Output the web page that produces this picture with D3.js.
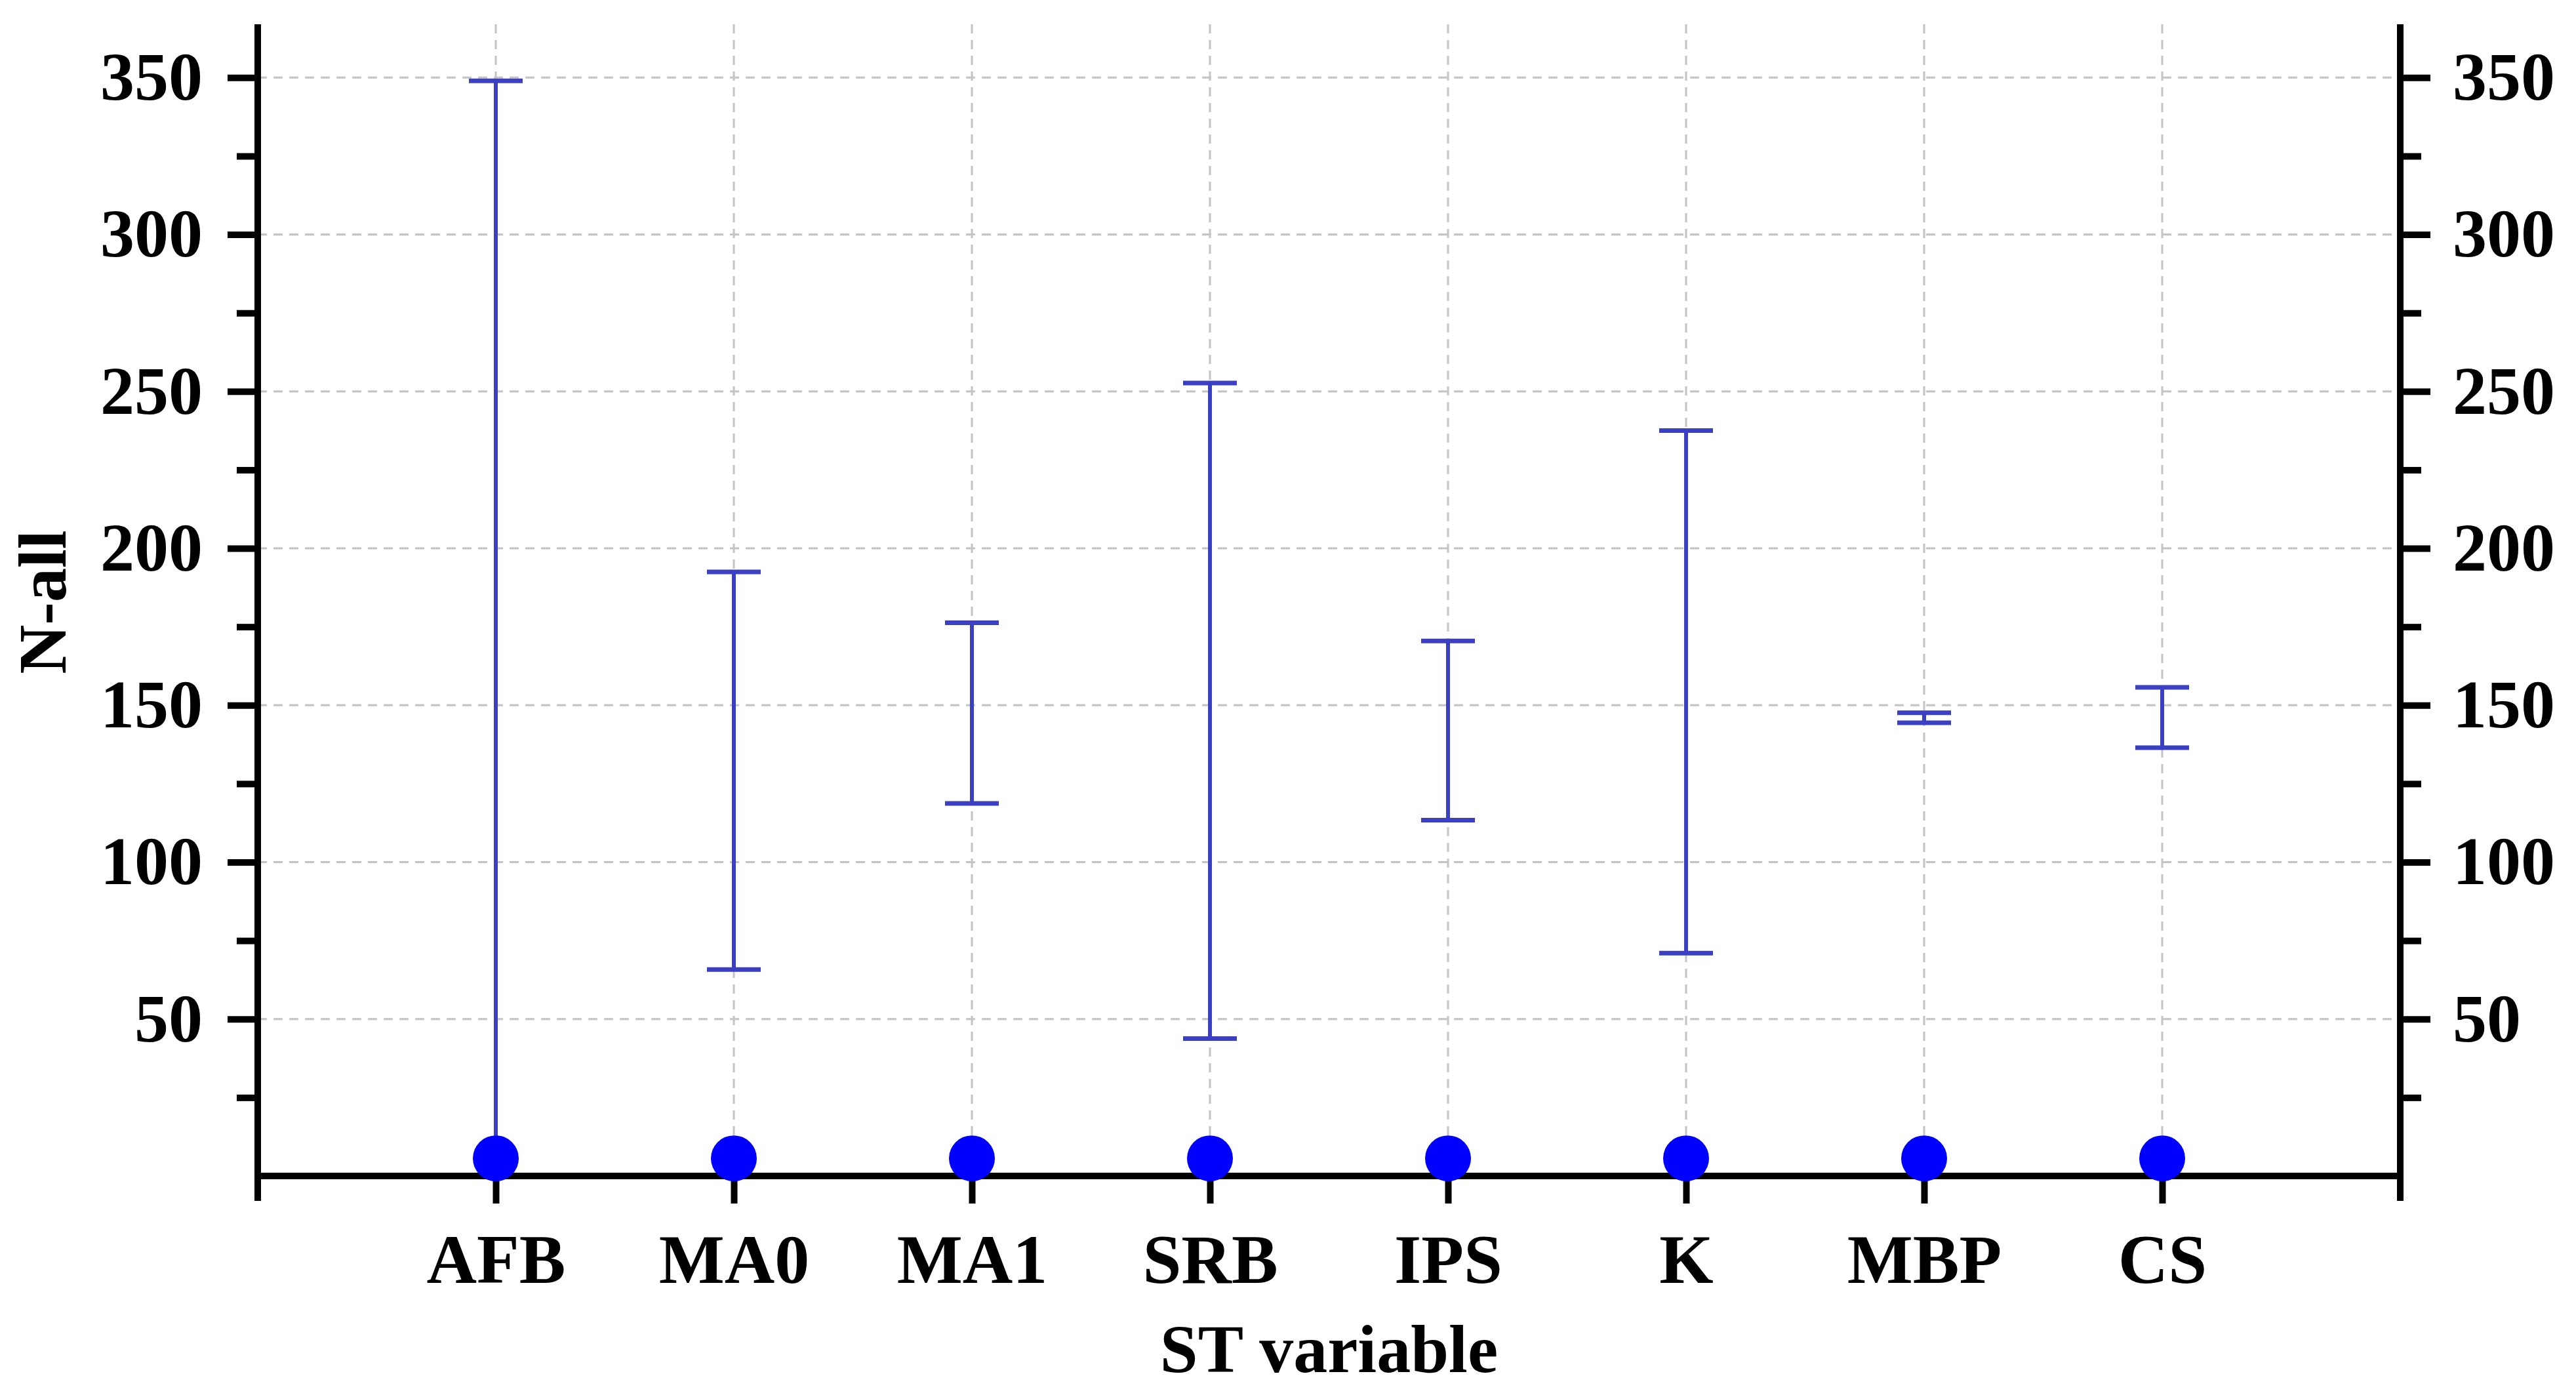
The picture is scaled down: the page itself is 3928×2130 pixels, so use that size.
<!DOCTYPE html>
<html>
<head>
<meta charset="utf-8">
<script src="https://cdn.jsdelivr.net/npm/d3@7"></script>
<style>
  html, body { margin: 0; padding: 0; background: #fff; overflow: hidden; }
  svg { display: block; width: 100vw; height: 100vh; }
</style>
</head>
<body>
<svg id="chart"></svg>
<script>
var categories = ['AFB', 'MA0', 'MA1', 'SRB', 'IPS', 'K', 'MBP', 'CS'];
var upperValues = [349, 192.5, 176.3, 252.7, 170.5, 237.5, 147.6, 155.7];
var lowerValues = [0, 65.8, 118.7, 43.8, 113.4, 71, 144.4, 136.5];
var pointValues = [5.6, 5.6, 5.6, 5.6, 5.6, 5.6, 5.6, 5.6];
var majorTicks = [50, 100, 150, 200, 250, 300, 350];
var minorTicks = [25, 75, 125, 175, 225, 275, 325];

var width = 3928, height = 2130;
var margin = { top: 37, right: 268, bottom: 337, left: 393 };
var innerWidth = width - margin.left - margin.right;
var innerHeight = height - margin.top - margin.bottom;
var fontFamily = '"Liberation Serif", "Times New Roman", serif';

var svg = d3.select('#chart')
  .attr('viewBox', [0, 0, width, height])
  .attr('preserveAspectRatio', 'xMidYMid meet');

var g = svg.append('g')
  .attr('transform', 'translate(' + margin.left + ',' + margin.top + ')');

var x = d3.scalePoint()
  .domain(categories)
  .range([0, innerWidth])
  .padding(1);

var y = d3.scaleLinear()
  .domain([0, 367])
  .range([innerHeight, 0]);

// grid
var grid = g.append('g').attr('class', 'grid');
majorTicks.forEach(function (v) {
  grid.append('line')
    .attr('x1', 0).attr('x2', innerWidth)
    .attr('y1', y(v)).attr('y2', y(v))
    .attr('stroke', '#c4c4c4')
    .attr('stroke-width', 3)
    .attr('stroke-dasharray', '14,10');
});
categories.forEach(function (c) {
  grid.append('line')
    .attr('x1', x(c)).attr('x2', x(c))
    .attr('y1', 0).attr('y2', innerHeight)
    .attr('stroke', '#c4c4c4')
    .attr('stroke-width', 3)
    .attr('stroke-dasharray', '14,10');
});

// error bars
var capHalf = 41;
var barColor = '#3b40c2';
var bars = g.append('g').attr('class', 'errorbars');
categories.forEach(function (c, i) {
  var cx = x(c);
  bars.append('line')
    .attr('x1', cx).attr('x2', cx)
    .attr('y1', y(upperValues[i])).attr('y2', y(lowerValues[i]))
    .attr('stroke', barColor)
    .attr('stroke-width', 6);
  [upperValues[i], lowerValues[i]].forEach(function (v) {
    bars.append('line')
      .attr('x1', cx - capHalf).attr('x2', cx + capHalf)
      .attr('y1', y(v)).attr('y2', y(v))
      .attr('stroke', barColor)
      .attr('stroke-width', 7);
  });
});

// axes
function styleAxis(sel) {
  sel.select('.domain').remove();
  sel.selectAll('.tick line')
    .attr('stroke', '#000')
    .attr('stroke-width', 10);
  sel.selectAll('.tick text')
    .attr('fill', '#000')
    .attr('font-family', fontFamily)
    .attr('font-weight', 'bold')
    .attr('font-size', '104px');
}

var yLeft = g.append('g')
  .call(d3.axisLeft(y).tickValues(majorTicks).tickSize(46).tickPadding(38));
styleAxis(yLeft);
var yLeftMinor = g.append('g')
  .call(d3.axisLeft(y).tickValues(minorTicks).tickSize(32).tickFormat(''));
styleAxis(yLeftMinor);

var yRight = g.append('g')
  .attr('transform', 'translate(' + innerWidth + ',0)')
  .call(d3.axisRight(y).tickValues(majorTicks).tickSize(46).tickPadding(34));
styleAxis(yRight);
var yRightMinor = g.append('g')
  .attr('transform', 'translate(' + innerWidth + ',0)')
  .call(d3.axisRight(y).tickValues(minorTicks).tickSize(32).tickFormat(''));
styleAxis(yRightMinor);

var xAxis = g.append('g')
  .attr('transform', 'translate(0,' + innerHeight + ')')
  .call(d3.axisBottom(x).tickSize(42));
styleAxis(xAxis);
xAxis.selectAll('.tick text')
  .attr('y', 163)
  .attr('dy', 0)
  .attr('font-size', '106px');

// axis lines
var extend = 38;
g.append('line')
  .attr('x1', 0).attr('x2', 0)
  .attr('y1', 0).attr('y2', innerHeight + extend)
  .attr('stroke', '#000').attr('stroke-width', 10);
g.append('line')
  .attr('x1', innerWidth).attr('x2', innerWidth)
  .attr('y1', 0).attr('y2', innerHeight + extend)
  .attr('stroke', '#000').attr('stroke-width', 10);
g.append('line')
  .attr('x1', 0).attr('x2', innerWidth)
  .attr('y1', innerHeight).attr('y2', innerHeight)
  .attr('stroke', '#000').attr('stroke-width', 10);

// points
g.append('g').selectAll('circle')
  .data(categories)
  .enter().append('circle')
  .attr('cx', function (d) { return x(d); })
  .attr('cy', function (d, i) { return y(pointValues[i]); })
  .attr('r', 35)
  .attr('fill', '#0000ff');

// titles
svg.append('text')
  .attr('x', margin.left + innerWidth / 2)
  .attr('y', 2092)
  .attr('text-anchor', 'middle')
  .attr('font-family', fontFamily)
  .attr('font-weight', 'bold')
  .attr('font-size', '104px')
  .text('ST variable');

svg.append('text')
  .attr('transform', 'translate(100,918) rotate(-90)')
  .attr('text-anchor', 'middle')
  .attr('font-family', fontFamily)
  .attr('font-weight', 'bold')
  .attr('font-size', '104px')
  .text('N-all');
</script>
</body>
</html>
